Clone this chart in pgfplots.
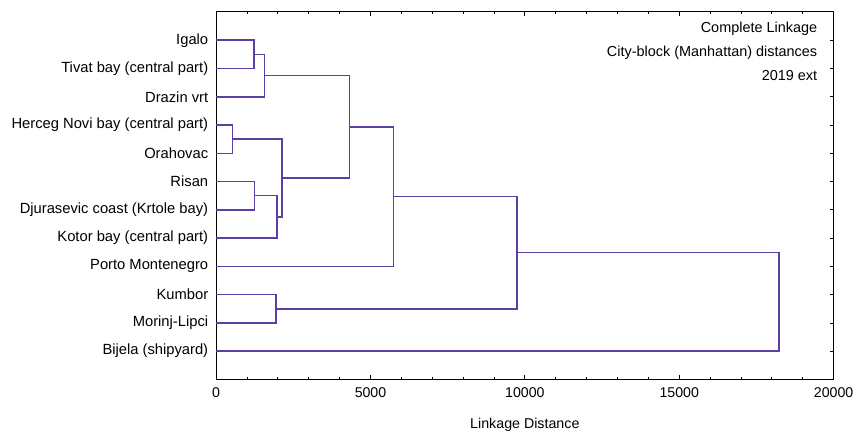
\documentclass[border=0pt]{standalone}
\usepackage{fontspec}
\setmainfont{Liberation Sans}
\usepackage{pgfplots}
\pgfplotsset{compat=1.18}
\definecolor{dend}{RGB}{92,62,165}
\pgfplotsset{dl/.style={color=dend, line width=1.5pt, solid, mark=none, line join=miter}}
\begin{document}
\fontsize{14.3}{17}\selectfont
\begin{tikzpicture}
\begin{axis}[
  scale only axis,
  width=620pt, height=369pt,
  xmin=0, xmax=20000, ymin=0, ymax=13,
  y dir=reverse,
  xtick={0,5000,10000,15000,20000},
  minor x tick num=4,
  scaled x ticks=false,
  xticklabel style={/pgf/number format/1000 sep={}, font=\fontsize{14.2}{17}\selectfont, yshift=-3pt},
  /pgf/number format/assume math mode=true,
  ytick={1,...,12},
  yticklabels={Igalo,Tivat bay (central part),Drazin vrt,Herceg Novi bay (central part),Orahovac,Risan,Djurasevic coast (Krtole bay),Kotor bay (central part),Porto Montenegro,Kumbor,Morinj-Lipci,Bijela (shipyard)},
  yticklabel style={font=\fontsize{14.8}{17}\selectfont, xshift=-3pt},
  tick pos=both, tick align=inside,
  major tick length=4pt, minor tick length=2.5pt,
  tick style={black, line width=0.8pt},
  axis line style={black, line width=1pt},
  xlabel={Linkage Distance},
  xlabel style={yshift=-11pt, font=\fontsize{14.3}{17}\selectfont},
  clip=false,
]
\addplot[dl] coordinates {(0,1)(1230,1)(1230,2)(0,2)};
\addplot[dl] coordinates {(1230,1.5)(1570,1.5)(1570,3)(0,3)};
\addplot[dl] coordinates {(0,4)(530,4)(530,5)(0,5)};
\addplot[dl] coordinates {(0,6)(1240,6)(1240,7)(0,7)};
\addplot[dl] coordinates {(1240,6.5)(1980,6.5)(1980,8)(0,8)};
\addplot[dl] coordinates {(530,4.5)(2130,4.5)(2130,7.25)(1980,7.25)};
\addplot[dl] coordinates {(1570,2.25)(4320,2.25)(4320,5.875)(2130,5.875)};
\addplot[dl] coordinates {(4320,4.0625)(5740,4.0625)(5740,9)(0,9)};
\addplot[dl] coordinates {(0,10)(1940,10)(1940,11)(0,11)};
\addplot[dl] coordinates {(5740,6.53125)(9750,6.53125)(9750,10.5)(1940,10.5)};
\addplot[dl] coordinates {(9750,8.515625)(18230,8.515625)(18230,12)(0,12)};
\node[anchor=east, font=\fontsize{14.5}{17}\selectfont] at (axis cs:19630,0.58) {Complete Linkage};
\node[anchor=east, font=\fontsize{14.5}{17}\selectfont] at (axis cs:19630,1.43) {City-block (Manhattan) distances};
\node[anchor=east, font=\fontsize{14.5}{17}\selectfont] at (axis cs:19630,2.25) {2019 ext};
\end{axis}
\useasboundingbox (current axis.south west) ++(-217pt,-52pt) rectangle ++(858pt,433pt);
\end{tikzpicture}
\end{document}
